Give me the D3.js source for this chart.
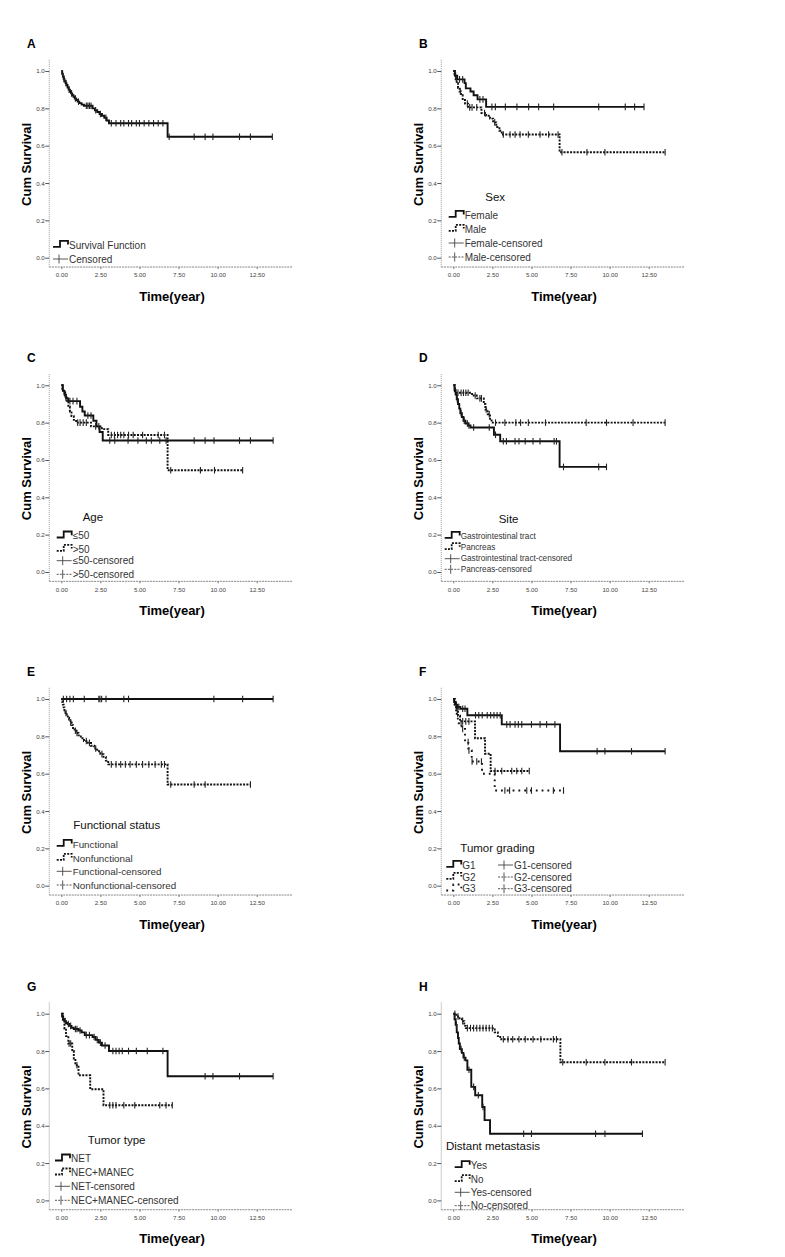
<!DOCTYPE html>
<html>
<head>
<meta charset="utf-8">
<script src="https://cdn.jsdelivr.net/npm/d3@7"></script>
<style>
  body { margin: 0; background: #fff; }
  svg { display: block; }
</style>
</head>
<body>
<div id="chart"></div>
<script>
// axis ticks
const yearTicks = [0, 2.5, 5, 7.5, 10, 12.5];
const survTicks = [0, 0.2, 0.4, 0.6, 0.8, 1.0];

// A - all patients
const allTime = [0.05,0.1,0.15,0.2,0.27,0.33,0.4,0.47,0.55,0.62,0.7,0.78,0.86,0.95,1.05,1.15,1.3,1.45,2.0,2.15,2.3,2.45,2.6,2.75,2.9,3.05,6.8];
const allSurv = [0.985,0.97,0.958,0.945,0.935,0.925,0.912,0.9,0.89,0.88,0.87,0.862,0.853,0.845,0.836,0.828,0.82,0.814,0.8,0.79,0.78,0.77,0.76,0.75,0.735,0.72,0.648];
const allCens = [0.08,0.18,0.3,0.5,0.66,0.9,1.1,1.6,1.7,1.8,1.9,2.2,2.5,2.85,3.2,3.5,3.8,4.0,4.3,4.5,4.8,5.0,5.3,5.6,5.9,6.2,6.5,6.9,8.5,9.2,9.7,11.4,12.1,13.5];

// B - sex
const femaleTime = [0.1,0.25,0.72,0.8,1.1,1.3,1.55,2.1];
const femaleSurv = [0.975,0.955,0.935,0.907,0.89,0.87,0.848,0.808];
const femaleCens = [0.15,0.4,0.6,1.7,1.9,2.47,2.69,3.33,4.07,4.82,5.46,6.42,9.3,11.0,11.6,12.2];
const maleTime = [0.08,0.15,0.22,0.3,0.4,0.5,0.6,0.75,0.95,1.8,2.1,2.35,2.55,2.75,2.95,3.1,6.8];
const maleSurv = [0.975,0.955,0.935,0.91,0.89,0.87,0.845,0.825,0.805,0.775,0.76,0.745,0.725,0.7,0.68,0.66,0.565];
const maleCens = [0.2,0.45,0.9,1.05,1.2,1.5,2.0,2.65,3.2,3.63,3.95,4.27,4.8,5.55,6.1,6.7,6.95,8.55,9.7,13.55];

// C - age
const youngTime = [0.1,0.2,0.3,0.45,1.2,1.35,1.5,2.05,2.25,2.45,2.65];
const youngSurv = [0.97,0.95,0.93,0.915,0.885,0.86,0.838,0.81,0.78,0.75,0.704];
const youngCens = [0.25,0.55,0.75,1.0,1.7,1.9,3.1,3.42,4.27,4.9,5.44,5.76,6.3,6.7,8.5,9.2,9.77,11.4,12.1,13.55];
const oldTime = [0.07,0.15,0.25,0.35,0.45,0.55,0.65,0.8,0.95,1.9,2.6,3.0,6.8];
const oldSurv = [0.98,0.96,0.935,0.91,0.885,0.86,0.835,0.815,0.8,0.78,0.765,0.734,0.545];
const oldCens = [0.3,1.05,1.2,1.4,1.6,2.2,2.4,3.2,3.4,3.6,3.8,4.0,4.3,4.6,5.2,6.2,6.6,7.0,8.9,9.8,11.6];

// D - site
const giTime = [0.08,0.15,0.22,0.3,0.38,0.45,0.55,0.65,0.78,0.95,1.1,2.6,3.0,6.8];
const giSurv = [0.975,0.95,0.925,0.9,0.875,0.85,0.83,0.81,0.795,0.785,0.774,0.735,0.7,0.563];
const giCens = [0.25,0.5,0.7,0.9,1.0,1.3,2.3,2.7,3.2,3.4,3.95,4.2,4.6,5.1,5.55,6.45,6.6,7.05,9.3,9.8];
const pancTime = [0.1,1.2,1.5,1.95,2.05,2.2,2.35,2.45];
const pancSurv = [0.96,0.945,0.93,0.9,0.87,0.845,0.82,0.8];
const pancCens = [0.3,0.5,0.65,0.8,0.95,1.4,1.7,1.8,2.1,2.3,2.7,3.3,4.0,4.3,4.8,5.9,8.5,9.8,11.5,13.55];

// E - functional status
const funcTime = [];
const funcSurv = [];
const funcCens = [0.13,0.34,0.55,0.77,1.47,2.4,2.47,2.58,2.86,4.0,4.3,9.76,11.6,13.55];
const nonfTime = [0.05,0.1,0.15,0.2,0.27,0.35,0.42,0.5,0.58,0.66,0.75,0.85,0.95,1.1,1.25,1.45,1.7,1.9,2.1,2.3,2.5,2.7,2.85,3.0,6.8];
const nonfSurv = [0.985,0.97,0.955,0.94,0.925,0.912,0.9,0.89,0.875,0.86,0.845,0.83,0.818,0.805,0.79,0.775,0.765,0.75,0.735,0.72,0.705,0.69,0.67,0.65,0.542];
const nonfCens = [0.3,0.6,0.9,1.0,1.6,1.8,2.2,2.6,3.2,3.5,3.8,4.1,4.4,4.8,5.2,5.6,6.0,6.4,6.6,7.0,8.5,9.2,12.1];

// F - tumor grading
const g1Time = [0.05,0.12,0.25,0.45,0.9,3.1,6.83];
const g1Surv = [0.985,0.97,0.957,0.948,0.913,0.864,0.72];
const g1Cens = [0.2,0.35,0.6,0.75,1.42,1.63,1.85,2.17,2.39,2.6,2.8,3.0,3.42,3.63,3.95,4.16,4.38,5.0,5.55,5.97,6.5,9.2,9.7,11.4,13.55];
const g2Time = [0.08,0.18,0.3,0.43,1.39,2.03,2.39];
const g2Surv = [0.97,0.94,0.91,0.88,0.79,0.707,0.614];
const g2Cens = [0.25,0.6,0.8,1.0,2.67,3.1,3.74,4.06,4.38,4.86];
const g3Time = [0.1,0.22,0.35,0.54,0.75,0.96,1.18,1.84,2.65];
const g3Surv = [0.95,0.895,0.87,0.84,0.77,0.725,0.665,0.6,0.51];
const g3Cens = [0.5,0.6,0.95,1.0,1.2,1.5,1.8,3.3,3.6,4.7,5.0,6.4,7.05];

// G - tumor type
const netTime = [0.05,0.12,0.2,0.3,0.4,0.5,0.65,0.8,1.1,1.3,1.5,2.0,2.2,2.4,2.6,3.05,6.8];
const netSurv = [0.985,0.97,0.96,0.95,0.945,0.935,0.925,0.918,0.91,0.9,0.885,0.875,0.86,0.845,0.83,0.8,0.665];
const netCens = [0.1,0.25,0.45,0.6,0.9,1.0,1.2,1.6,1.8,2.1,2.3,2.5,2.8,3.3,3.5,3.7,3.9,4.3,4.8,5.5,6.5,9.2,9.7,11.4,13.55];
const necTime = [0.1,0.2,0.3,0.45,0.7,0.8,0.9,1.1,1.85,2.7];
const necSurv = [0.96,0.92,0.88,0.84,0.8,0.76,0.724,0.67,0.595,0.51];
const necCens = [0.5,0.6,1.0,3.1,3.3,3.5,4.0,4.7,6.3,6.7,7.1];

// H - distant metastasis
const yesTime = [0.08,0.15,0.22,0.3,0.35,0.42,0.55,0.65,0.78,0.9,1.15,1.4,1.85,2.0,2.35];
const yesSurv = [0.97,0.94,0.9,0.87,0.84,0.81,0.79,0.765,0.75,0.7,0.608,0.563,0.5,0.43,0.357];
const yesCens = [0.2,0.5,0.7,1.0,1.3,1.6,1.9,4.5,5.0,9.1,9.7,12.1];
const noTime = [0.2,0.4,0.55,0.7,0.8,2.65,2.85,3.0,6.85];
const noSurv = [0.985,0.975,0.96,0.935,0.923,0.9,0.88,0.863,0.74];
const noCens = [0.1,0.3,0.6,0.9,1.1,1.3,1.5,1.7,1.9,2.1,2.3,2.5,3.2,3.5,3.8,4.2,4.6,5.1,5.6,6.4,6.6,7.0,8.5,9.7,11.4,13.55];

const width = 785, height = 1257;
const colLeft = [0, 392];
const rowTop = [71, 385.3, 699, 1013.7];   // y position of the 1.0 tick per row
const font = "'Liberation Sans', Arial, Helvetica, sans-serif";

const dashes = { solid: null, dotted: "2,1.3", sparse: "1.8,4" };

const mk = (name, t, s, c, dash) => ({ name, t, s, c, dash });

const panels = [
  { id: "A", col: 0, row: 0, title: null,
    series: [mk("Survival Function", allTime, allSurv, allCens, "solid")],
    legendX: 53, rows: [174, 188], fs: 10 },
  { id: "B", col: 1, row: 0, title: "Sex", titleX: 93.3, titleY: 126,
    series: [mk("Female", femaleTime, femaleSurv, femaleCens, "solid"),
             mk("Male", maleTime, maleSurv, maleCens, "dotted")],
    legendX: 56.7, rows: [144, 158, 172, 186], fs: 10 },
  { id: "C", col: 0, row: 1, title: "Age", titleX: 82.7, titleY: 132,
    series: [mk("\u226450", youngTime, youngSurv, youngCens, "solid"),
             mk(">50", oldTime, oldSurv, oldCens, "dotted")],
    legendX: 56.7, rows: [150.4, 163.7, 175.4, 189], fs: 10 },
  { id: "D", col: 1, row: 1, title: "Site", titleX: 106.7, titleY: 133.7,
    series: [mk("Gastrointestinal tract", giTime, giSurv, giCens, "solid"),
             mk("Pancreas", pancTime, pancSurv, pancCens, "dotted")],
    legendX: 52.7, rows: [150.7, 162, 173.4, 184], fs: 8.2 },
  { id: "E", col: 0, row: 2, title: "Functional status", titleX: 73.3, titleY: 126,
    series: [mk("Functional", funcTime, funcSurv, funcCens, "solid"),
             mk("Nonfunctional", nonfTime, nonfSurv, nonfCens, "dotted")],
    legendX: 56.7, rows: [145, 159, 172.3, 186], fs: 9.8 },
  { id: "F", col: 1, row: 2, title: "Tumor grading", titleX: 68.3, titleY: 148.7,
    series: [mk("G1", g1Time, g1Surv, g1Cens, "solid"),
             mk("G2", g2Time, g2Surv, g2Cens, "dotted"),
             mk("G3", g3Time, g3Surv, g3Cens, "sparse")],
    legendX: 54.3, legendX2: 106, rows: [166, 178, 189.7], fs: 10 },
  { id: "G", col: 0, row: 3, title: "Tumor type", titleX: 87.7, titleY: 126.6,
    series: [mk("NET", netTime, netSurv, netCens, "solid"),
             mk("NEC+MANEC", necTime, necSurv, necCens, "dotted")],
    legendX: 55, rows: [145, 159, 172.6, 186.6], fs: 10 },
  { id: "H", col: 1, row: 3, title: "Distant metastasis", titleX: 54, titleY: 132.6,
    series: [mk("Yes", yesTime, yesSurv, yesCens, "solid"),
             mk("No", noTime, noSurv, noCens, "dotted")],
    legendX: 62.7, rows: [151.6, 165.6, 178.6, 192], fs: 10 }
];

const svg = d3.select("#chart").append("svg")
  .attr("width", width)
  .attr("height", height)
  .style("font-family", font);

svg.append("rect").attr("width", width).attr("height", height).attr("fill", "#fff");

// survival at a given time from a step list
function survAt(series, t) {
  const i = d3.bisectRight(series.t, t);
  return i === 0 ? 1 : series.s[i - 1];
}

function stepGlyph(g, x0, yc, dash) {
  g.append("path")
    .attr("d", `M${x0},${yc + 1.8}H${x0 + 7}V${yc - 4.2}H${x0 + 15}V${yc - 0.5}`)
    .attr("fill", "none")
    .attr("stroke", "#111")
    .attr("stroke-width", 1.8)
    .attr("stroke-dasharray", dashes[dash]);
}

function censGlyph(g, x0, yc, dash) {
  g.append("line")
    .attr("x1", x0).attr("x2", x0 + 15).attr("y1", yc).attr("y2", yc)
    .attr("stroke", "#444").attr("stroke-width", 0.9)
    .attr("stroke-dasharray", dash === "solid" ? null : "2,1.2");
  g.append("line")
    .attr("x1", x0 + 6).attr("x2", x0 + 6).attr("y1", yc - 4.5).attr("y2", yc + 4.5)
    .attr("stroke", "#444").attr("stroke-width", 0.9);
}

panels.forEach(p => {
  const px = colLeft[p.col];
  const y1 = rowTop[p.row];
  const g = svg.append("g");

  const x = d3.scaleLinear().domain([0, 12.5]).range([px + 61.3, px + 256.7]);
  const y = d3.scaleLinear().domain([0, 1]).range([y1 + 186.7, y1]);

  // panel letter
  g.append("text")
    .attr("x", px + 27).attr("y", y1 - 27)
    .attr("dominant-baseline", "central")
    .attr("font-weight", "bold").attr("font-size", 12)
    .text(p.id);

  // axis lines (SPSS style, extending past the data range)
  g.append("line")
    .attr("x1", x(-0.77)).attr("x2", x(-0.77))
    .attr("y1", y(1.06)).attr("y2", y(-0.05))
    .attr("stroke", "#999").attr("stroke-width", 1)
    .attr("stroke-dasharray", "1,1");
  g.append("line")
    .attr("x1", x(-0.77)).attr("x2", x(14.8))
    .attr("y1", y(-0.05)).attr("y2", y(-0.05))
    .attr("stroke", "#888").attr("stroke-width", 1)
    .attr("stroke-dasharray", "2,0.8");

  // y axis
  const yAxis = g.append("g")
    .attr("transform", `translate(${x(-0.77)},0)`)
    .call(d3.axisLeft(y).tickValues(survTicks).tickFormat(d3.format(".1f"))
      .tickSize(4).tickPadding(0.5));
  yAxis.select(".domain").remove();
  yAxis.selectAll("line").attr("stroke", "#555");
  yAxis.selectAll("text").attr("font-size", 6.2).attr("fill", "#444").attr("font-family", font);

  // x axis
  const xAxis = g.append("g")
    .attr("transform", `translate(0,${y(-0.05)})`)
    .call(d3.axisBottom(x).tickValues(yearTicks).tickFormat(d3.format(".2f"))
      .tickSize(2).tickPadding(4));
  xAxis.select(".domain").remove();
  xAxis.selectAll("line").attr("stroke", "#777");
  xAxis.selectAll("text").attr("font-size", 6.2).attr("fill", "#444").attr("font-family", font);

  // axis titles
  g.append("text")
    .attr("transform", `translate(${px + 26.7},${y(0.5)}) rotate(-90)`)
    .attr("text-anchor", "middle").attr("dominant-baseline", "central")
    .attr("font-weight", "bold").attr("font-size", 13)
    .text("Cum Survival");
  g.append("text")
    .attr("x", px + 172).attr("y", y1 + 225)
    .attr("text-anchor", "middle").attr("dominant-baseline", "central")
    .attr("font-weight", "bold").attr("font-size", 13)
    .text("Time(year)");

  // curves
  const line = d3.line()
    .x(d => x(d[0]))
    .y(d => y(d[1]))
    .curve(d3.curveStepAfter);

  p.series.forEach(s => {
    const tEnd = d3.max([d3.max(s.t) || 0, d3.max(s.c) || 0]);
    const pts = [[0, 1]].concat(s.t.map((t, i) => [t, s.s[i]]));
    pts.push([tEnd, s.s.length ? s.s[s.s.length - 1] : 1]);

    g.append("path")
      .attr("d", line(pts))
      .attr("fill", "none")
      .attr("stroke", "#111")
      .attr("stroke-width", 1.9)
      .attr("stroke-dasharray", dashes[s.dash]);

    g.append("g")
      .selectAll("line")
      .data(s.c)
      .join("line")
        .attr("x1", d => x(d)).attr("x2", d => x(d))
        .attr("y1", d => y(survAt(s, d)) - 3.3)
        .attr("y2", d => y(survAt(s, d)) + 3.3)
        .attr("stroke", "#222")
        .attr("stroke-width", 1.1);
  });

  // legend
  if (p.title) {
    g.append("text")
      .attr("x", px + p.titleX).attr("y", y1 + p.titleY)
      .attr("dominant-baseline", "central")
      .attr("font-size", 11.5).attr("fill", "#111")
      .text(p.title);
  }

  let items;
  if (p.series.length === 1) {
    items = [
      { kind: "step", label: p.series[0].name, dash: p.series[0].dash },
      { kind: "cens", label: "Censored", dash: "solid" }
    ];
  } else {
    items = p.series.map(s => ({ kind: "step", label: s.name, dash: s.dash }))
      .concat(p.series.map(s => ({ kind: "cens", label: s.name + "-censored", dash: s.dash })));
  }

  const nRows = p.rows.length;
  items.forEach((it, i) => {
    const col = Math.floor(i / nRows);
    const lx = px + (col === 0 ? p.legendX : p.legendX2);
    const ly = y1 + p.rows[i % nRows];
    if (it.kind === "step") stepGlyph(g, lx, ly, it.dash);
    else censGlyph(g, lx, ly, it.dash);
    g.append("text")
      .attr("x", lx + 16).attr("y", ly)
      .attr("dominant-baseline", "central")
      .attr("font-size", p.fs).attr("fill", "#333")
      .text(it.label);
  });
});
</script>
</body>
</html>
